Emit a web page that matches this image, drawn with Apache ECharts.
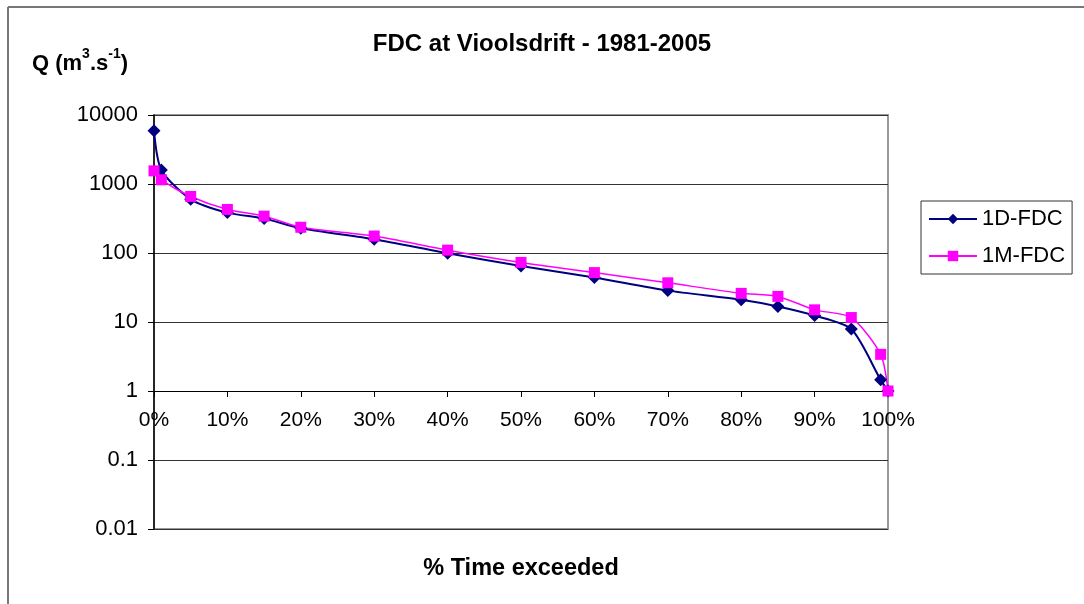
<!DOCTYPE html>
<html>
<head>
<meta charset="utf-8">
<script src="https://cdn.jsdelivr.net/npm/echarts@6/dist/echarts.min.js"></script>
<style>html,body{margin:0;padding:0;background:#fff}#c{width:1084px;height:604px}</style>
</head>
<body>
<div id="c"></div>
<script>
// % time exceeded (x positions of the points)
const pctExceeded = [0, 1, 5, 10, 15, 20, 30, 40, 50, 60, 70, 80, 85, 90, 95, 99, 100];
// 1D-FDC discharge (m3/s)
const fdc1D = [5900, 1600, 600, 385, 315, 228, 158, 99, 65, 44, 28.5, 21, 16.8, 12.4, 7.9, 1.45, 1.0];
// 1M-FDC discharge (m3/s)
const fdc1M = [1550, 1150, 660, 428, 342, 236, 176, 110, 73, 52, 37, 26, 23.5, 15, 11.6, 3.4, 1.0];
const seriesNames = ['1D-FDC', '1M-FDC'];
const yTickLabels = ['0.01', '0.1', '1', '10', '100', '1000', '10000'];
const titleText = 'FDC at Vioolsdrift - 1981-2005';
const xAxisTitle = '% Time exceeded';

const FONT = '"Liberation Sans", Arial, sans-serif';
const gridTop = 115, gridBottomY = 529, gridLeft = 154, gridRight = 888;
const decadePx = (gridBottomY - gridTop) / 6;
const xAxisY = gridTop + 4 * decadePx; // y = 1

const chart = echarts.init(document.getElementById('c'), null, {renderer: 'canvas'});
chart.setOption({
  backgroundColor: '#fff',
  animation: false,
  title: {
    text: titleText,
    left: 'center',
    top: 27,
    textStyle: {fontFamily: FONT, fontSize: 24, fontWeight: 'bold', color: '#000'}
  },
  legend: {
    orient: 'vertical',
    left: 921,
    top: 201,
    padding: [7, 7, 7, 7],
    itemGap: 15,
    itemWidth: 48,
    itemHeight: 13,
    borderColor: '#333',
    borderWidth: 1,
    textStyle: {fontFamily: FONT, fontSize: 22, color: '#000'},
    data: seriesNames
  },
  grid: {
    left: gridLeft, top: gridTop, right: 1084 - gridRight, bottom: 604 - gridBottomY,
    show: true, borderColor: '#999', borderWidth: 2, backgroundColor: '#fff'
  },
  xAxis: {
    type: 'value', min: 0, max: 100, interval: 10,
    position: 'bottom',
    offset: -(gridBottomY - xAxisY),
    axisLine: {onZero: false, lineStyle: {color: '#000', width: 1}},
    axisTick: {show: true, length: 6, lineStyle: {color: '#000'}},
    axisLabel: {fontFamily: FONT, fontSize: 21, color: '#000', margin: 19,
      formatter: v => v + '%'},
    splitLine: {show: false},
    name: xAxisTitle,
    nameLocation: 'middle',
    nameGap: gridBottomY - xAxisY + 28,
    nameTextStyle: {fontFamily: FONT, fontSize: 23.5, fontWeight: 'bold', color: '#000'}
  },
  yAxis: {
    type: 'log', logBase: 10, min: 0.01, max: 10000,
    axisLine: {show: true, lineStyle: {color: '#000', width: 1.5}},
    axisTick: {show: true, length: 6, lineStyle: {color: '#000'}},
    axisLabel: {fontFamily: FONT, fontSize: 22, color: '#000', margin: 16,
      formatter: v => yTickLabels[Math.round(Math.log10(v)) + 2]},
    splitLine: {show: true, lineStyle: {color: '#333', width: 1}}
  },
  graphic: [
    {type: 'line', shape: {x1: 8, y1: 7, x2: 1084, y2: 7}, style: {stroke: '#777', lineWidth: 2}, silent: true},
    {type: 'line', shape: {x1: 8, y1: 7, x2: 8, y2: 604}, style: {stroke: '#777', lineWidth: 2}, silent: true},
    {
      type: 'text', left: 32, top: 47, silent: true,
      style: {
        text: '{b|Q (m}{s|3}{b|.s}{s|-1}{b|)}',
        rich: {
          b: {fontFamily: FONT, fontSize: 22, fontWeight: 'bold', fill: '#000', lineHeight: 28, verticalAlign: 'bottom'},
          s: {fontFamily: FONT, fontSize: 14, fontWeight: 'bold', fill: '#000', lineHeight: 28, verticalAlign: 'top'}
        }
      }
    }
  ],
  series: [
    {
      name: seriesNames[0], type: 'line', smooth: 0.25,
      data: pctExceeded.map((x, i) => [x, fdc1D[i]]),
      symbol: 'diamond', symbolSize: 13,
      itemStyle: {color: '#000080'},
      lineStyle: {color: '#000080', width: 2}
    },
    {
      name: seriesNames[1], type: 'line', smooth: 0.25,
      data: pctExceeded.map((x, i) => [x, fdc1M[i]]),
      symbol: 'rect', symbolSize: 11,
      itemStyle: {color: '#ff00ff'},
      lineStyle: {color: '#ff00ff', width: 1.5}
    }
  ]
});
</script>
</body>
</html>
